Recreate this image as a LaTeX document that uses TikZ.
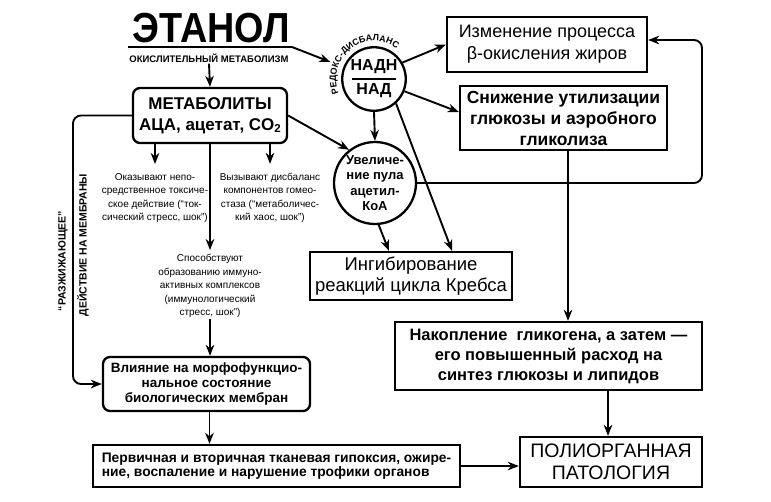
\documentclass[tikz,border=0pt]{standalone}
\usepackage{graphicx}
\usepackage{fontspec}
\setmainfont{Liberation Sans}
\usetikzlibrary{arrows.meta,decorations.text,calc}
\newcommand\myfs[2]{\fontsize{#1}{#2}\selectfont}
\begin{document}
\begin{tikzpicture}[x=1pt,y=-1pt,
  box/.style={draw, line width=2.3pt, align=center, inner sep=1pt},
  rbox/.style={box, rounded corners=7pt},
  circ/.style={draw, circle, line width=2.3pt, align=center, inner sep=0pt},
  conn/.style={line width=1.9pt, -{Stealth[length=11pt,width=8.5pt,inset=3.5pt]}},
  note/.style={align=center, inner sep=1pt, font=\myfs{10}{13.5}},
  vtext/.style={rotate=90, inner sep=1pt, font=\bfseries\myfs{10.5}{11}}
]
\useasboundingbox (0,0) rectangle (771,501);

% texts at the top
\node[font=\bfseries\myfs{42}{42}, inner sep=0pt] (eth) at (211,28) {\scalebox{0.9}[1]{ЭТАНОЛ}};
\node[font=\bfseries\myfs{9.5}{10}, inner sep=1pt] (okisl) at (209,58) {ОКИСЛИТЕЛЬНЫЙ МЕТАБОЛИЗМ};

% boxes
\node[rbox, minimum width=154pt, minimum height=55pt, font=\bfseries\myfs{17}{21}] (metab) at (210,115.5)
  {МЕТАБОЛИТЫ\\АЦА, ацетат, CO\raisebox{-0.3ex}{\myfs{11.5}{11.5}2}};
\node[circ, minimum size=62pt, font=\bfseries\myfs{16}{19}] (nadh) at (374,79)
  {\begin{tabular}{@{}c@{}}НАДН\\[-10pt]\rule{44pt}{1.8pt}\\[-4pt]НАД\end{tabular}};
\node[box, minimum width=200pt, minimum height=55pt, font=\myfs{18}{22}] (izm) at (547,44.5)
  {Изменение процесса\\β-окисления жиров};
\node[box, minimum width=207pt, minimum height=64pt, font=\bfseries\myfs{17.5}{21}] (snizh) at (563.5,118)
  {Снижение утилизации\\глюкозы и аэробного\\гликолиза};
\node[circ, minimum size=82pt, font=\bfseries\myfs{13}{15.3}] (uvel) at (375,183)
  {Увеличе-\\ние пула\\ацетил-\\КоА};
\node[box, minimum width=202pt, minimum height=48pt, font=\myfs{18.5}{20.5}] (ingib) at (411,276)
  {Ингибирование\\реакций цикла Кребса};
\node[box, minimum width=307pt, minimum height=68pt, font=\bfseries\myfs{16.5}{20}] (nakop) at (548.5,356)
  {Накопление\ \ гликогена, а затем —\\его повышенный расход на\\синтез глюкозы и липидов};
\node[box, minimum width=182pt, minimum height=50pt, font=\myfs{19.5}{22}] (poly) at (611,462)
  {ПОЛИОРГАННАЯ\\ПАТОЛОГИЯ};
\node[rbox, minimum width=207pt, minimum height=54pt, font=\bfseries\myfs{13.5}{15}] (vliy) at (206.5,384)
  {Влияние на морфофункцио-\\нальное состояние\\биологических мембран};
\node[box, align=left, minimum width=367pt, minimum height=42pt, font=\bfseries\myfs{13.8}{14.5}] (perv) at (276.5,466)
  {Первичная и вторичная тканевая гипоксия, ожире-\\ние, воспаление и нарушение трофики органов};

% small notes
\node[note] (tox) at (155,198) {Оказывают непо-\\средственное токсиче-\\ское действие (“ток-\\сический стресс, шок”)};
\node[note] (homeo) at (270,198) {Вызывают дисбаланс\\компонентов гомео-\\стаза (“метаболичес-\\кий хаос, шок”)};
\node[note] (immun) at (210,286) {Способствуют\\образованию иммуно-\\активных комплексов\\(иммунологический\\стресс, шок”)};

% rotated labels
\node[vtext] (razzh) at (63,261) {“РАЗЖИЖАЮЩЕЕ”};
\node[vtext] (deyst) at (83,245) {ДЕЙСТВИЕ НА МЕМБРАНЫ};

% curved label
\path[decorate, decoration={text along path, text={|\bfseries\myfs{9}{9}|РЕДОКС-ДИСБАЛАНС}, text align=center}]
  (341.06,98) arc[start angle=-210, end angle=-45, radius=38];

% connectors
\coordinate (l0) at (128,47);
\coordinate (l1) at (292,47);
\draw[conn, shorten >=14pt] (l0) -- (l1) -- (nadh);
\draw[conn] (okisl.south) -- (metab.north);
\draw[conn] (nadh.30) -- (izm.west);
\draw[conn] (nadh.-22) -- ([yshift=6pt]snizh.west);
\draw[conn] (nadh.south) -- (uvel.north);
\draw[conn] (nadh.-48) -- ([xshift=41pt]ingib.north);
\draw[conn] (metab.east) -- (uvel.128);
\draw[conn] (uvel.-85) -- ([xshift=-22pt]ingib.north);
\coordinate (fb1) at (702,183);
\coordinate (fb2) at (702,40);
\draw[conn, rounded corners=8pt] (uvel.east) -- (fb1) -- (fb2) -- ([yshift=4.5pt]izm.east);
\draw[conn] ([xshift=4.5pt]snizh.south) -- ([xshift=4.5pt]snizh.south |- nakop.north);
\draw[conn] ([xshift=-3pt]poly.north |- nakop.south) -- ([xshift=-3pt]poly.north);
\draw[conn] (perv.east) -- (perv.east -| poly.west);
\draw[conn] ([xshift=3pt]vliy.south) -- ([xshift=3pt]vliy.south |- perv.north);
\draw[conn, shorten >=8pt] (metab.south -| tox) -- (tox.north);
\draw[conn, shorten >=8pt] (metab.south -| homeo) -- (homeo.north);
\draw[conn, shorten >=3pt] (metab.south -| immun) -- (immun.north);
\draw[conn] (immun.south) -- (immun.south |- vliy.north);
\coordinate (lp) at (73,250);
\draw[conn, rounded corners=8pt] (metab.west) -| (lp) |- (vliy.west);
\end{tikzpicture}
\end{document}
